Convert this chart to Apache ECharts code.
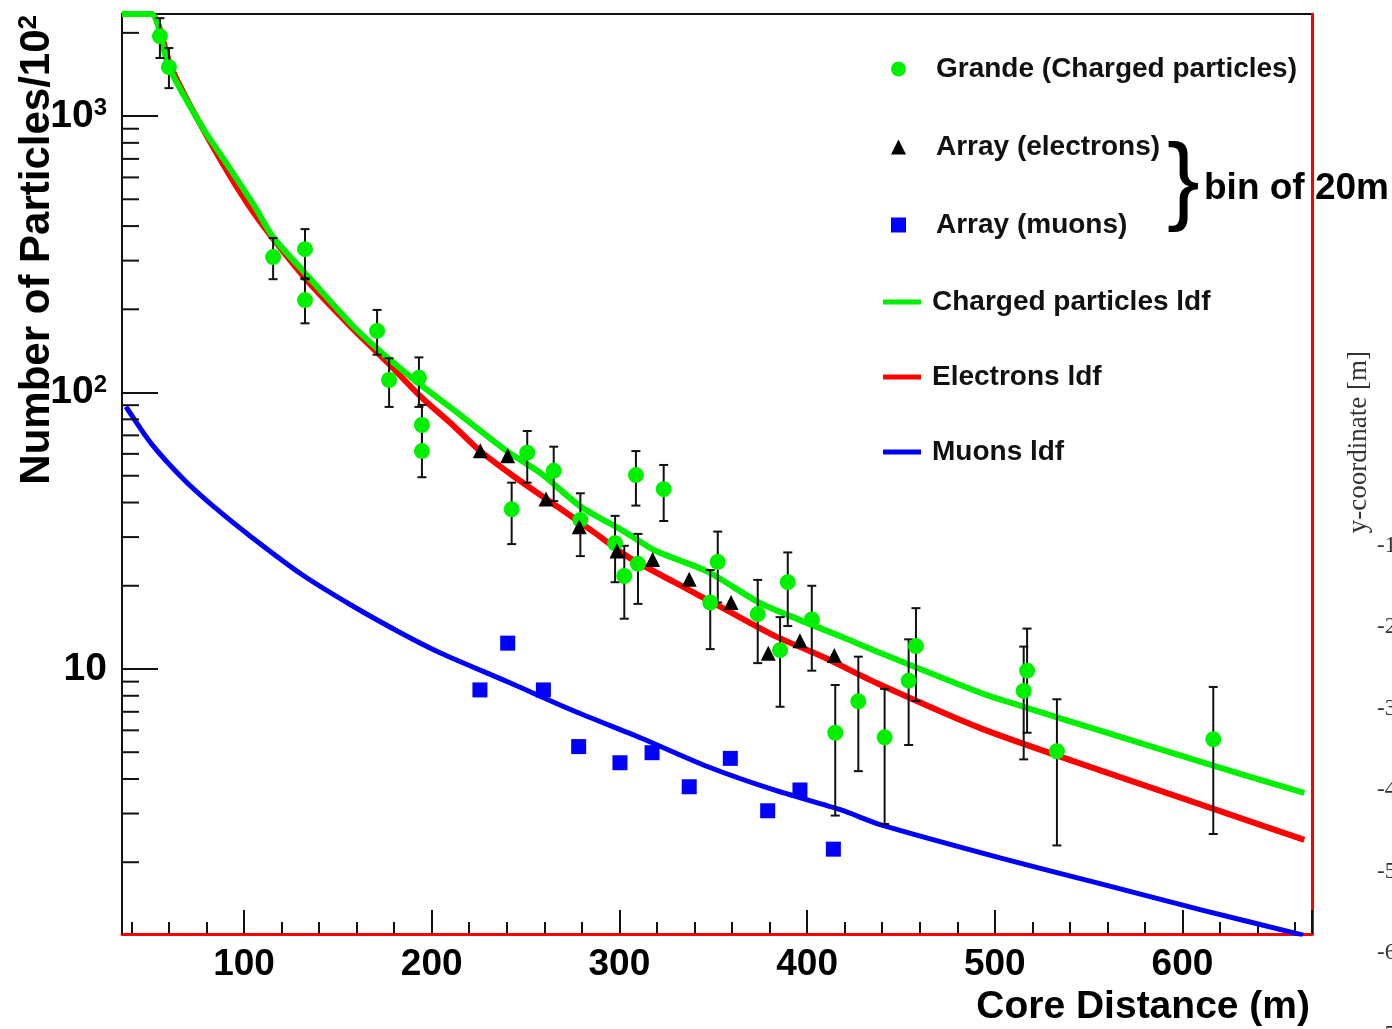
<!DOCTYPE html>
<html>
<head>
<meta charset="utf-8">
<script src="https://cdn.jsdelivr.net/npm/echarts@6/dist/echarts.min.js"></script>
<style>
html, body { margin: 0; padding: 0; background: #fff; }
#chartContainer { width: 1392px; height: 1029px; }
</style>
</head>
<body>
<div id="chartContainer"></div>
<script>
// axis ranges (core distance in m, particles per 10^2 m^2)
const xMin = 35, xMax = 669;
const yMin = 1.1, yMax = 2340;
const yMinorTicks = [2, 3, 4, 5, 6, 7, 8, 9, 20, 30, 40, 50, 60, 70, 80, 90,
    200, 300, 400, 500, 600, 700, 800, 900, 2000];

// Grande stations (charged particles) with error bars
const grandeX = [55.2, 60.0, 115.5, 132.5, 132.5, 170.9, 177.3, 193.2, 194.8, 194.8,
    242.6, 250.9, 265.0, 279.2, 297.7, 302.6, 308.8, 309.9, 323.6, 348.4,
    352.4, 373.7, 385.6, 389.7, 402.5, 415.0, 427.3, 441.3, 454.1, 458.0,
    515.4, 517.2, 533.1, 616.4];
const grandeY = [1946, 1503, 309, 330, 216, 167, 111, 113, 76.3, 61.4,
    37.8, 60.6, 52.1, 34.6, 28.5, 21.7, 50.3, 24.0, 44.7, 17.4,
    24.4, 15.8, 11.7, 20.6, 15.1, 5.88, 7.64, 5.66, 9.07, 12.1,
    8.33, 9.86, 5.04, 5.57];
const grandeLo = [1622, 1262, 257, 259, 178, 137, 88.7, 88.7, 61.9, 49.4,
    28.3, 47.2, 40.5, 25.6, 20.6, 15.2, 39.0, 17.2, 34.3, 11.8,
    17.4, 10.5, 7.3, 14.3, 9.86, 2.95, 4.27, 2.75, 5.31, 7.66,
    4.71, 5.88, 2.30, 2.53];
const grandeHi = [2261, 1762, 362, 390, 257, 199, 133, 134, 90.2, 74.4,
    47.2, 72.6, 63.7, 43.2, 35.8, 27.9, 61.4, 30.8, 54.7, 22.8,
    31.4, 21.0, 15.4, 26.4, 20.0, 8.75, 11.08, 8.47, 12.8, 16.6,
    12.05, 14.0, 7.77, 8.61];

// Array, bin of 20 m
const electronX = [225.9, 240.5, 260.9, 278.6, 298.7, 317.7, 337.2, 359.5, 379.3, 396.2, 414.5];
const electronY = [61.6, 59.1, 41.2, 32.7, 26.7, 24.9, 21.1, 17.4, 11.4, 12.66, 11.2];
const muonX = [225.7, 240.5, 259.5, 278.3, 300.3, 317.4, 337.2, 359.1, 379.0, 396.2, 414.0];
const muonY = [8.40, 12.4, 8.40, 5.24, 4.58, 4.98, 3.75, 4.75, 3.07, 3.65, 2.23];

// lateral distribution functions
const chargedLdfX = [35, 50.5, 60.0, 78.7, 87.7, 105.3, 115.5, 132.0, 158.6, 176.7, 194.3, 211.9,
    240.5, 258.2, 279.5, 302.6, 318.6, 347.0, 373.7, 391.4, 418.1, 439.4, 492.6, 515.0,
    556.6, 609.9, 664.9];
const chargedLdfY = [2340, 2340, 1503, 890, 723, 476, 365, 273, 172.6, 133.3, 106.4, 86.4,
    61.1, 51.0, 38.6, 31.4, 26.9, 22.5, 17.5, 15.5, 13.1, 11.4, 8.19, 7.31,
    5.97, 4.61, 3.56];
const electronLdfX = [35, 50.5, 61.1, 82.4, 105.3, 132.0, 158.6, 176.7, 194.3, 211.9, 224.5,
    244.0, 267.1, 284.9, 304.4, 329.3, 355.9, 382.5, 409.2, 437.0, 492.6, 556.6,
    609.9, 664.9];
const electronLdfY = [2340, 2340, 1503, 798, 446, 261.6, 168.3, 127.9, 96.4, 75.5, 62.5,
    49.6, 38.6, 31.8, 25.5, 20.6, 16.5, 13.2, 11.0, 8.9, 6.1, 4.29,
    3.23, 2.41];
const muonLdfX = [37.1, 50.5, 68.2, 86.0, 103.7, 130.4, 157.0, 183.6, 205.0, 240.7, 275.8,
    311.5, 347.2, 382.4, 418.1, 439.4, 503.3, 556.6, 609.9, 664.3];
const muonLdfY = [88.9, 65.5, 48.3, 37.6, 30.1, 22.06, 17.04, 13.5, 11.4, 8.97, 7.05,
    5.63, 4.43, 3.65, 3.09, 2.73, 2.07, 1.67, 1.345, 1.09];

// neighbouring figure, cut at the right edge
const sideTickLabels = ['-100', '-200', '-300', '-400', '-500', '-600', '-700'];

const FONT = 'Liberation Sans, Arial, Helvetica, sans-serif';
const SERIF = 'Liberation Serif, DejaVu Serif, serif';
const GREEN = '#00f000', RED = '#ff0000', BLUE = '#0000ff';

let chart = null;

document.addEventListener('DOMContentLoaded', function() {
    chart = echarts.init(document.getElementById('chartContainer'));
    updateChart();
});

function zip(xs, ys) {
    return xs.map((x, i) => [x, ys[i]]);
}

function errorBarItem(params, api) {
    const lo = api.coord([api.value(0), api.value(1)]);
    const hi = api.coord([api.value(0), api.value(2)]);
    const cap = 4.5;
    const style = { stroke: '#111', lineWidth: 2 };
    return {
        type: 'group',
        children: [
            { type: 'line', shape: { x1: lo[0], y1: lo[1], x2: hi[0], y2: hi[1] }, style },
            { type: 'line', shape: { x1: lo[0] - cap, y1: lo[1], x2: lo[0] + cap, y2: lo[1] }, style },
            { type: 'line', shape: { x1: hi[0] - cap, y1: hi[1], x2: hi[0] + cap, y2: hi[1] }, style }
        ]
    };
}

function minorTickItem(params, api) {
    const p = api.coord([api.value(0), api.value(1)]);
    return {
        type: 'line',
        shape: { x1: p[0], y1: p[1], x2: p[0] + 17, y2: p[1] },
        style: { stroke: '#111', lineWidth: 2 }
    };
}

function logLabel(v) {
    const e = Math.round(Math.log10(v));
    if (Math.abs(v - Math.pow(10, e)) > 1e-6 * v) return '';
    if (e === 1) return '{b|10}';
    return '{b|10}{s|' + e + '}';
}

function ldfSeries(name, xs, ys, color, width, z) {
    return {
        name, type: 'line', data: zip(xs, ys), symbol: 'none', smooth: 0.25, color,
        lineStyle: { color, width }, z
    };
}

function updateChart() {
    const legendText = { fontSize: 28, fontWeight: 'bold', fontFamily: FONT, color: '#111' };

    const sideLabels = sideTickLabels.map((t, i) => ({
        type: 'text', left: 1377, top: 534 + i * 81.5,
        style: { text: t, font: '23px ' + SERIF, fill: '#333' }
    }));

    const option = {
        animation: false,
        backgroundColor: '#fff',
        grid: { left: 122, right: 80, top: 14, bottom: 95, show: true, borderColor: '#111', borderWidth: 2 },
        legend: [
            {
                orient: 'vertical', left: 891, top: 55, padding: 0, itemWidth: 15, itemHeight: 15, itemGap: 50,
                textStyle: Object.assign({ padding: [0, 0, 0, 25] }, legendText),
                data: [
                    { name: 'Grande (Charged particles)', icon: 'circle' },
                    { name: 'Array (electrons)', icon: 'triangle' },
                    { name: 'Array (muons)', icon: 'rect' }
                ]
            },
            {
                orient: 'vertical', left: 883, top: 288, padding: 0, itemWidth: 38, itemHeight: 5, itemGap: 47,
                textStyle: Object.assign({ padding: [0, 0, 0, 6] }, legendText),
                data: [
                    { name: 'Charged particles ldf', icon: 'rect' },
                    { name: 'Electrons ldf', icon: 'rect' },
                    { name: 'Muons ldf', icon: 'rect' }
                ]
            }
        ],
        xAxis: {
            type: 'value', min: xMin, max: xMax,
            name: 'Core Distance (m)', nameLocation: 'end', nameGap: -2, nameMoveOverlap: false,
            nameTextStyle: { fontSize: 39, fontWeight: 'bold', fontFamily: FONT, color: '#000',
                align: 'right', verticalAlign: 'top', padding: [54, 0, 0, 0] },
            axisLine: { show: true, lineStyle: { color: RED, width: 3 } },
            axisTick: { show: true, inside: true, length: 24, lineStyle: { color: '#111', width: 2 } },
            minorTick: { show: true, splitNumber: 5, length: 12, lineStyle: { color: '#111', width: 2 } },
            axisLabel: { fontSize: 37, fontWeight: 'bold', fontFamily: FONT, color: '#000', margin: 12,
                showMinLabel: false, showMaxLabel: false },
            splitLine: { show: false }
        },
        yAxis: [
            {
                type: 'log', logBase: 10, min: yMin, max: yMax,
                name: 'Number of Particles/10{s|2}', nameLocation: 'end', nameRotate: 90, nameGap: -1,
                nameMoveOverlap: false,
                nameTextStyle: { fontSize: 42, fontWeight: 'bold', fontFamily: FONT, color: '#000',
                    align: 'right', verticalAlign: 'bottom', padding: [0, 0, 64, 0],
                    rich: { s: { fontSize: 26, fontWeight: 'bold', fontFamily: FONT, color: '#000', verticalAlign: 'top' } } },
                axisLine: { show: true, lineStyle: { color: '#111', width: 2 } },
                axisTick: { show: true, inside: true, length: 36, lineStyle: { color: '#111', width: 2 } },
                axisLabel: {
                    margin: 15, showMinLabel: false, showMaxLabel: false, formatter: logLabel,
                    rich: {
                        b: { fontSize: 39, fontWeight: 'bold', fontFamily: FONT, color: '#000' },
                        s: { fontSize: 24, fontWeight: 'bold', fontFamily: FONT, color: '#000', verticalAlign: 'top' }
                    }
                },
                splitLine: { show: false }
            },
            {
                type: 'log', logBase: 10, min: yMin, max: yMax, position: 'right',
                axisLine: { show: true, lineStyle: { color: RED, width: 3 } },
                axisTick: { show: false }, axisLabel: { show: false }, splitLine: { show: false }
            }
        ],
        graphic: [
            { type: 'text', left: 1167, top: 136, style: { text: '}', font: '98px ' + FONT, fill: '#000' } },
            { type: 'text', left: 1204, top: 170, style: { text: 'bin of 20m', font: 'bold 37px ' + FONT, fill: '#000' } },
            { type: 'text', left: 1345, top: 351, rotation: Math.PI / 2,
                style: { text: 'y-coordinate [m]', font: '27px ' + SERIF, fill: '#333' } }
        ].concat(sideLabels),
        series: [
            ldfSeries('Charged particles ldf', chargedLdfX, chargedLdfY, GREEN, 6, 3),
            ldfSeries('Electrons ldf', electronLdfX, electronLdfY, RED, 6, 2),
            ldfSeries('Muons ldf', muonLdfX, muonLdfY, BLUE, 5, 2),
            {
                name: 'errors', type: 'custom', renderItem: errorBarItem, z: 4,
                data: grandeX.map((x, i) => [x, grandeLo[i], grandeHi[i]]),
                encode: { x: 0, y: [1, 2] }
            },
            {
                name: 'yMinorTicks', type: 'custom', renderItem: minorTickItem, z: 5, silent: true,
                data: yMinorTicks.filter(v => v > yMin && v < yMax).map(v => [xMin, v])
            },
            {
                name: 'Grande (Charged particles)', type: 'scatter', data: zip(grandeX, grandeY),
                symbol: 'circle', symbolSize: 16, color: GREEN, itemStyle: { color: GREEN, opacity: 1 }, z: 6
            },
            {
                name: 'Array (electrons)', type: 'scatter', data: zip(electronX, electronY),
                symbol: 'triangle', symbolSize: 15, color: '#000', itemStyle: { color: '#000', opacity: 1 }, z: 6
            },
            {
                name: 'Array (muons)', type: 'scatter', data: zip(muonX, muonY),
                symbol: 'rect', symbolSize: 15, color: BLUE, itemStyle: { color: BLUE, opacity: 1 }, z: 6
            }
        ]
    };

    chart.setOption(option, true);
}
</script>
</body>
</html>
